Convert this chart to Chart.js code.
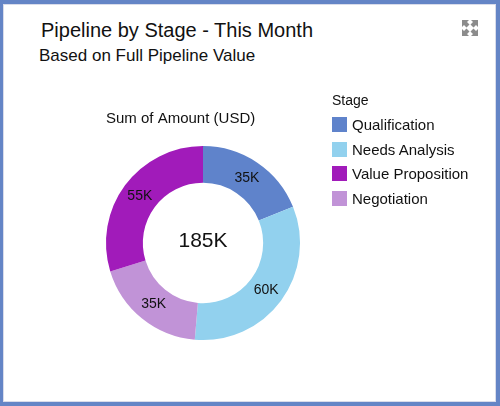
<!DOCTYPE html>
<html>
<head>
<meta charset="utf-8">
<script src="https://cdn.jsdelivr.net/npm/chart.js@4/dist/chart.umd.min.js"></script>
<style>
  body { margin: 0; background: #fff; font-family: "Liberation Sans", Arial, sans-serif; }
  #frame {
    position: relative; width: 500px; height: 406px; box-sizing: border-box;
    border: 4px solid #6485c6; border-left-width: 3px;
    box-shadow: inset 0 0 0 1px #d9dcea; overflow: hidden;
  }
  #title { position: absolute; left: 38px; top: 15px; font-size: 20px; color: #111; white-space: nowrap; }
  #subtitle { position: absolute; left: 36px; top: 42px; font-size: 17px; color: #111; white-space: nowrap; }
  #expand { position: absolute; left: 459px; top: 16px; }
  #chart { position: absolute; left: -3px; top: -4px; }
  #legend { position: absolute; left: 329px; top: 87px; color: #111; }
  #legend .head { font-size: 14px; height: 22px; line-height: 18px; }
  #legend .item { font-size: 15px; height: 24.5px; line-height: 24px; white-space: nowrap; }
  #legend .box { display: inline-block; width: 15px; height: 15px; vertical-align: -2px; margin-right: 5px; }
</style>
</head>
<body>
<div id="frame">
  <div id="title">Pipeline by Stage - This Month</div>
  <div id="subtitle">Based on Full Pipeline Value</div>
  <svg id="expand" width="16" height="16" viewBox="0 0 16 16">
    <g fill="#8c8c8c">
      <path d="M0 0H7L5 2L7.5 4.5L4.5 7.5L2 5L0 7Z"/>
      <path d="M16 0H9L11 2L8.5 4.5L11.5 7.5L14 5L16 7Z"/>
      <path d="M0 16H7L5 14L7.5 11.5L4.5 8.5L2 11L0 9Z"/>
      <path d="M16 16H9L11 14L8.5 11.5L11.5 8.5L14 11L16 9Z"/>
    </g>
  </svg>
  <canvas id="chart" width="500" height="406"></canvas>
  <div id="legend"></div>
</div>
<script>
// pipeline stages this month
var stages = ['Qualification', 'Needs Analysis', 'Value Proposition', 'Negotiation'];
var amounts = [35000, 60000, 55000, 35000];
var colors = ['#5f83cb', '#92d1ee', '#a11bba', '#c193d7'];
// note: slices go clockwise from top: Qualification, Needs Analysis, Negotiation, Value Proposition
var order = [0, 1, 3, 2];

function fmtK(v) { return Math.round(v / 1000) + 'K'; }

var sliceLabels = order.map(function (i) { return stages[i]; });
var sliceValues = order.map(function (i) { return amounts[i]; });
var sliceColors = order.map(function (i) { return colors[i]; });

// labels in the ring + total in the hole
var donutText = {
  id: 'donutText',
  afterDatasetsDraw: function (chart) {
    var ctx = chart.ctx;
    var meta = chart.getDatasetMeta(0);
    var data = chart.data.datasets[0].data;
    ctx.save();
    ctx.fillStyle = '#111';
    ctx.textAlign = 'center';
    ctx.textBaseline = 'middle';
    ctx.font = '14px "Liberation Sans", Arial, sans-serif';
    meta.data.forEach(function (arc, i) {
      var p = arc.tooltipPosition();
      ctx.fillText(fmtK(data[i]), p.x, p.y);
    });
    var total = data.reduce(function (a, b) { return a + b; }, 0);
    var c = meta.data[0];
    ctx.font = '21px "Liberation Sans", Arial, sans-serif';
    ctx.fillText(fmtK(total), c.x, c.y - 2);
    ctx.restore();
  }
};

var chart = new Chart(document.getElementById('chart'), {
  type: 'doughnut',
  data: {
    labels: sliceLabels,
    datasets: [{
      data: sliceValues,
      backgroundColor: sliceColors,
      borderWidth: 0,
      hoverOffset: 0
    }]
  },
  options: {
    responsive: false,
    devicePixelRatio: 1,
    animation: false,
    cutout: '62%',
    layout: { padding: { top: 110, left: 106, right: 200, bottom: 66 } },
    plugins: {
      legend: { display: false },
      tooltip: { enabled: false },
      title: {
        display: true,
        text: 'Sum of Amount (USD)',
        align: 'start',
        color: '#111',
        font: { family: '"Liberation Sans", Arial, sans-serif', size: 15, weight: 'normal' },
        padding: { top: 0, bottom: 18 }
      }
    }
  },
  plugins: [donutText]
});

// legend in stage order
var html = '<div class="head">Stage</div>';
stages.forEach(function (s, i) {
  html += '<div class="item"><span class="box" style="background:' + colors[i] + '"></span>' + s + '</div>';
});
document.getElementById('legend').innerHTML = html;
</script>
</body>
</html>
